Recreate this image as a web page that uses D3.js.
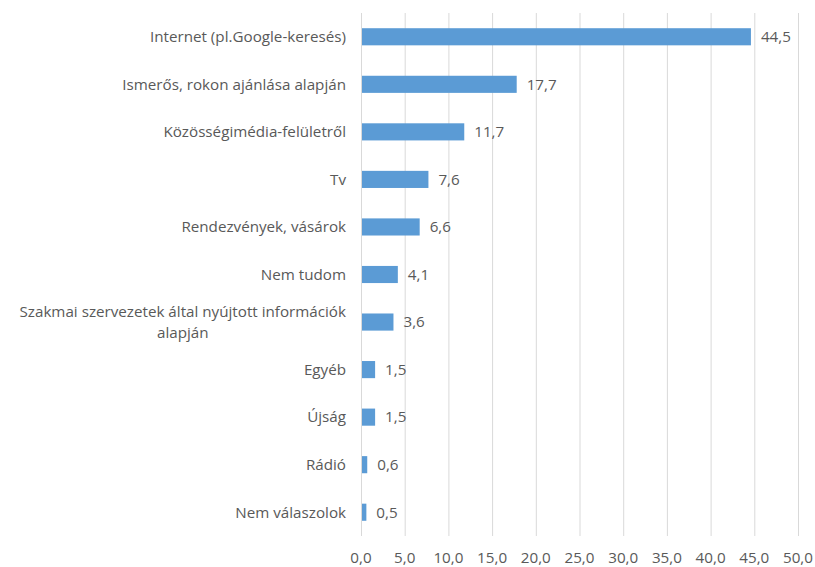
<!DOCTYPE html>
<html><head><meta charset="utf-8">
<script src="https://cdn.jsdelivr.net/npm/d3@7"></script>
<style>body{margin:0;background:#fff}svg{display:block}</style>
</head><body><svg id="c" width="815" height="567"></svg>
<script>
const categories = ["Internet (pl.Google-keresés)","Ismerős, rokon ajánlása alapján","Közösségimédia-felületről","Tv","Rendezvények, vásárok","Nem tudom","Szakmai szervezetek által nyújtott információk alapján","Egyéb","Újság","Rádió","Nem válaszolok"];
const values = [44.5,17.7,11.7,7.6,6.6,4.1,3.6,1.5,1.5,0.6,0.5];
const ticks = [0,5,10,15,20,25,30,35,40,45,50];

const svg = d3.select("#c");
const font = "'Open Sans', sans-serif";
const fs = 15.2;
const x = d3.scaleLinear().domain([0,50]).range([361,798]);
const y = d3.scaleBand().domain(categories).range([13,536]).paddingInner(0.64).paddingOuter(0.32);
const fmt = v => d3.format(".1f")(v).replace(".", ",");

svg.append("g").selectAll("line").data(ticks).join("line")
  .attr("x1", d=>x(d)+0.5).attr("x2", d=>x(d)+0.5)
  .attr("y1", 13).attr("y2", 536)
  .attr("stroke", "#d9d9d9").attr("stroke-width", 1);

svg.append("g").selectAll("text").data(ticks).join("text")
  .attr("x", d=>x(d)).attr("y", 558).attr("dy","0.35em")
  .attr("text-anchor","middle").attr("font-family",font).attr("font-size",fs).attr("fill","#595959")
  .text(d=>fmt(d));

const data = categories.map((c,i)=>({c, v: values[i]}));
svg.append("g").selectAll("rect").data(data).join("rect")
  .attr("x", x(0)+1).attr("y", d=>y(d.c))
  .attr("width", d=>x(d.v)-x(0)).attr("height", y.bandwidth())
  .attr("fill", "#5B9BD5");

svg.append("g").selectAll("text").data(data).join("text")
  .attr("x", d=>x(d.v)+11).attr("y", d=>y(d.c)+y.bandwidth()/2).attr("dy","0.35em")
  .attr("font-family",font).attr("font-size",fs).attr("fill","#595959")
  .text(d=>fmt(d.v));

const lab = svg.append("g").selectAll("text").data(data).join("text")
  .attr("text-anchor","end").attr("font-family",font).attr("font-size",fs).attr("fill","#595959")
  .attr("y", d=>y(d.c)+y.bandwidth()/2);
lab.each(function(d){
  const t = d3.select(this);
  if (d.c.startsWith("Szakmai")) {
    const l1 = t.append("tspan").attr("x",346).attr("dy","-0.32em").text("Szakmai szervezetek által nyújtott információk");
    const w = l1.node().getComputedTextLength();
    t.append("tspan").attr("x",346 - w/2).attr("text-anchor","middle").attr("dy","1.35em").text("alapján");
  } else {
    t.append("tspan").attr("x",346).attr("dy","0.35em").text(d.c);
  }
});
</script></body></html>
